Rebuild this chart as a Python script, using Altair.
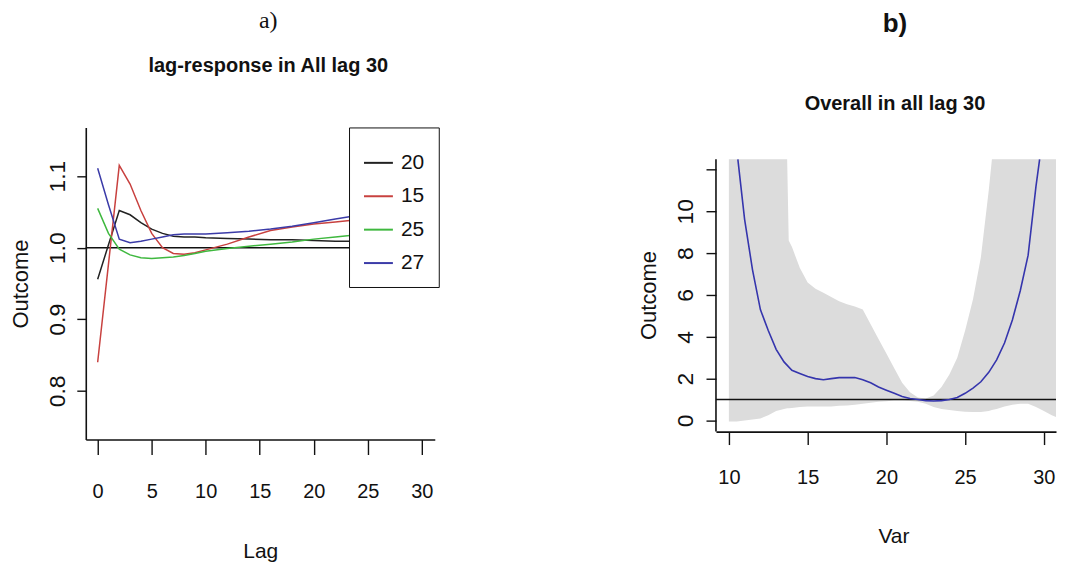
import altair as alt
import pandas as pd

SANS = "Liberation Sans, Arial, sans-serif"
SERIF = "Liberation Serif, Times New Roman, serif"

# ---------- panel a: lag-response ----------
lags = [0, 1, 2, 3, 4, 5, 6, 7, 8, 9, 10, 12, 14, 16, 18, 20, 22, 24, 26, 28, 30]
s20 = [0.956, 1.004, 1.052, 1.046, 1.035, 1.026, 1.020, 1.016, 1.015, 1.015, 1.014,
       1.013, 1.012, 1.011, 1.011, 1.010, 1.009, 1.009, 1.009, 1.009, 1.009]
s15 = [0.840, 0.977, 1.115, 1.089, 1.052, 1.020, 1.000, 0.992, 0.991, 0.993, 0.997,
       1.005, 1.015, 1.024, 1.029, 1.033, 1.036, 1.039, 1.041, 1.043, 1.045]
s25 = [1.055, 1.020, 0.998, 0.990, 0.986, 0.985, 0.986, 0.987, 0.989, 0.992, 0.995,
       0.999, 1.002, 1.005, 1.008, 1.012, 1.015, 1.018, 1.020, 1.022, 1.024]
s27 = [1.111, 1.060, 1.012, 1.007, 1.009, 1.012, 1.015, 1.018, 1.019, 1.019, 1.019,
       1.021, 1.023, 1.026, 1.030, 1.035, 1.040, 1.045, 1.050, 1.055, 1.060]
series_names = ["20", "15", "25", "27"]
series_colors = ["#222222", "#c8413f", "#3fb83f", "#3b3ba8"]
a_xticks = [0, 5, 10, 15, 20, 25, 30]
a_yticks = [0.8, 0.9, 1.0, 1.1]

# ---------- panel b: overall ----------
B_YMIN, B_YMAX = -0.53, 12.48
var = [10, 10.5, 11, 11.5, 12, 12.5, 13, 13.5, 13.7, 13.8, 14, 14.5, 15, 15.5, 16, 16.5,
       17, 17.5, 18, 18.5, 19, 19.5, 20, 20.5, 21, 21.5, 22, 22.5, 23, 23.5, 24, 24.5,
       25, 25.5, 26, 26.5, 26.7, 27, 27.5, 28, 28.5, 29, 29.5, 30, 30.5, 31]
# upper limit read at the top edge of the plot where the band runs off the chart
upper = [12.48, 12.48, 12.48, 12.48, 12.48, 12.48, 12.48, 12.48, 12.48, 8.6, 8.3, 7.3, 6.6, 6.3, 6.1, 5.9,
         5.7, 5.55, 5.45, 5.3, 4.6, 3.9, 3.2, 2.5, 1.8, 1.35, 1.1, 1.05, 1.2, 1.6, 2.2, 3.0,
         4.3, 5.8, 7.8, 11.0, 12.48, 12.48, 12.48, 12.48, 12.48, 12.48, 12.48, 12.48, 12.48, 12.48]
lower = [-0.05, -0.05, 0.0, 0.05, 0.1, 0.25, 0.45, 0.55, 0.58, 0.59, 0.6, 0.65, 0.67, 0.67, 0.67, 0.67,
         0.7, 0.72, 0.75, 0.8, 0.85, 0.9, 0.92, 0.95, 0.95, 0.93, 0.9, 0.8, 0.65, 0.55, 0.5, 0.45,
         0.42, 0.4, 0.4, 0.45, 0.5, 0.55, 0.67, 0.75, 0.8, 0.8, 0.65, 0.45, 0.25, 0.1]
# visible part of the fitted curve (it leaves the top of the plot at both ends)
fit_var = [10.57, 11, 11.5, 12, 12.5, 13, 13.5, 14, 14.5, 15, 15.5, 16, 16.5,
           17, 17.5, 18, 18.5, 19, 19.5, 20, 20.5, 21, 21.5, 22, 22.5, 23, 23.5, 24, 24.5,
           25, 25.5, 26, 26.5, 27, 27.5, 28, 28.5, 29, 29.5, 29.73]
fit = [12.48, 9.6, 7.2, 5.3, 4.3, 3.4, 2.8, 2.4, 2.25, 2.1, 2.0, 1.95, 2.0,
       2.05, 2.05, 2.05, 1.95, 1.8, 1.6, 1.45, 1.3, 1.15, 1.05, 1.0, 0.95, 0.93, 0.95, 1.0, 1.1,
       1.3, 1.55, 1.85, 2.3, 2.9, 3.7, 4.8, 6.2, 7.9, 11.2, 12.48]
b_xticks = [10, 15, 20, 25, 30]
b_yticks = [0, 2, 4, 6, 8, 10, 12]

# ---------- data frames ----------
rows = []
for name, vals in zip(series_names, [s20, s15, s25, s27]):
    for l, v in zip(lags, vals):
        rows.append({"lag": l, "value": v, "series": name})
df_a = pd.DataFrame(rows)
df_band = pd.DataFrame({"var": var, "upper": upper, "lower": lower})
df_fit = pd.DataFrame({"var": fit_var, "fit": fit})
df_ref = pd.DataFrame({"ref": [1.0]})
df_yaxis = pd.DataFrame({"lo": [B_YMIN], "hi": [B_YMAX]})

AXIS_COMMON = dict(grid=False, domainColor="#111", tickColor="#111", domainWidth=1.6,
                   tickWidth=1.4, labelColor="#111", titleColor="#111", titleFontWeight="normal")

# ---------- panel a ----------
xa = alt.X("lag:Q", scale=alt.Scale(domain=[-1.1, 31.2], nice=False, zero=False),
           axis=alt.Axis(values=a_xticks, tickSize=15, labelPadding=27, labelFont=SANS,
                         labelFontSize=20, labelBaseline="top", title="Lag", titleFont=SANS,
                         titleFontSize=21, titleX=175, titleY=118, titleBaseline="alphabetic",
                         **AXIS_COMMON))
ya = alt.Y("value:Q", scale=alt.Scale(domain=[0.732, 1.168], nice=False, zero=False),
           axis=alt.Axis(values=a_yticks, format=".1f", tickSize=9, labelPadding=12,
                         labelAngle=270, labelAlign="center", labelBaseline="alphabetic",
                         labelFont=SANS, labelFontSize=23, title="Outcome", titleFont=SANS,
                         titleFontSize=22, titleAngle=270, titleX=-58, titleY=156.5,
                         titleAlign="center", titleBaseline="alphabetic", **AXIS_COMMON))

ref_a = alt.Chart(df_ref).mark_rule(color="#111", strokeWidth=1.6).encode(y="ref:Q")
lines_a = alt.Chart(df_a).mark_line(strokeWidth=1.5, clip=True).encode(
    x=xa, y=ya,
    color=alt.Color("series:N",
                    scale=alt.Scale(domain=series_names, range=series_colors),
                    sort=series_names,
                    legend=alt.Legend(orient="none", legendX=264, legendY=0, title=" ",
                                      titleFontSize=6, titlePadding=0,
                                      symbolType="stroke", symbolSize=841, symbolStrokeWidth=2,
                                      labelFont=SANS, labelFontSize=21, labelOffset=7,
                                      padding=14, rowPadding=7.5, strokeColor="#111",
                                      fillColor="white", labelColor="#111")),
)
panel_a = alt.layer(ref_a, lines_a).properties(
    width=350, height=313,
    title=alt.TitleParams(text="a)", subtitle="lag-response in All lag 30",
                          font=SERIF, fontSize=24, fontWeight="normal", color="#111",
                          subtitleFont=SANS, subtitleFontSize=20, subtitleFontWeight="bold",
                          subtitleColor="#111", subtitlePadding=23, offset=52, dx=8),
)

# ---------- panel b ----------
xb_scale = alt.Scale(domain=[9.18, 30.77], nice=False, zero=False)
yb_scale = alt.Scale(domain=[B_YMIN, B_YMAX], range=[305, 32], nice=False, zero=False)
xb = alt.X("var:Q", scale=xb_scale,
           axis=alt.Axis(values=b_xticks, tickSize=13, labelPadding=23, labelFont=SANS,
                         labelFontSize=20, labelBaseline="top", title="Var", titleFont=SANS,
                         titleFontSize=21, titleX=178, titleY=111, titleBaseline="alphabetic",
                         offset=-8, **AXIS_COMMON))
yb_axis = alt.Axis(values=b_yticks, tickSize=10, labelPadding=14, labelAngle=270,
                   labelAlign="center", labelBaseline="alphabetic", labelFont=SANS,
                   labelFontSize=23, labelExpr="datum.value == 12 ? '' : datum.label",
                   domain=False,
                   title="Outcome", titleFont=SANS, titleFontSize=22, titleAngle=270,
                   titleX=-61, titleY=168, titleAlign="center", titleBaseline="alphabetic",
                   **AXIS_COMMON)

band = alt.Chart(df_band).mark_area(color="#dcdcdc", clip=True).encode(
    x=xb, y=alt.Y("upper:Q", scale=yb_scale, axis=yb_axis), y2="lower:Q")
ref_b = alt.Chart(df_ref).mark_rule(color="#111", strokeWidth=1.6).encode(
    y=alt.Y("ref:Q", scale=yb_scale))
yaxis_line = alt.Chart(df_yaxis).mark_rule(color="#111", strokeWidth=1.6).encode(
    x=alt.value(0), y=alt.Y("lo:Q", scale=yb_scale), y2="hi:Q")
fit_b = alt.Chart(df_fit).mark_line(color="#3535ad", strokeWidth=1.6, clip=True).encode(
    x="var:Q", y=alt.Y("fit:Q", scale=yb_scale))

panel_b = alt.layer(band, ref_b, fit_b, yaxis_line).properties(
    width=341, height=313,
    title=alt.TitleParams(text="b)", subtitle="Overall in all lag 30",
                          font=SANS, fontSize=26, fontWeight="bold", color="#111",
                          subtitleFont=SANS, subtitleFontSize=20, subtitleFontWeight="bold",
                          subtitleColor="#111", subtitlePadding=58, offset=13, dx=9),
)

chart = alt.hconcat(panel_a, panel_b, spacing=202).properties(
    padding={"left": 2, "top": 0, "right": 0, "bottom": 0}
).configure(background="white").configure_view(stroke=None)

chart.save("out.html", embed_options={"renderer": "svg", "actions": False})
